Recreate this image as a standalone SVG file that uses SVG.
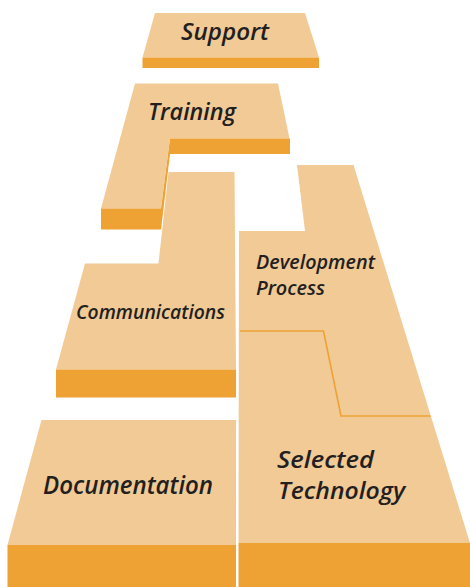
<svg xmlns="http://www.w3.org/2000/svg" width="470" height="587" viewBox="0 0 470 587">
<style>
.top{fill:#F1CA96}
.side{fill:#EEA234}
.lbl{font-family:"Open Sans","Noto Sans","DejaVu Sans",sans-serif;font-style:italic;font-weight:600;fill:#231F20}
</style>
<rect width="470" height="587" fill="#FFFFFF"/>
<g id="support">
<polygon class="top" points="155,13 305,13 319,57.5 142.5,57.5"/>
<rect class="side" x="142.5" y="57.5" width="176.5" height="10.5"/>
<text class="lbl" x="181" y="39.5" font-size="23" textLength="88" lengthAdjust="spacingAndGlyphs">Support</text>
</g>
<g id="training">
<polygon class="side" points="170,138 161,208 161,229.5 170,154"/>
<polygon class="top" points="135,83.5 278,83.5 289.5,138.5 170,138.5 161,208.5 101,208.5"/>
<rect class="side" x="170" y="138.5" width="120" height="15.5"/>
<rect class="side" x="101" y="208.5" width="60" height="21"/>
<text class="lbl" x="148" y="120" font-size="24" textLength="88" lengthAdjust="spacingAndGlyphs">Training</text>
</g>
<g id="communications">
<polygon class="top" points="168.5,172 234.5,172 236,369.5 56,369.5 85,263.5 158.5,263.5"/>
<rect class="side" x="56" y="369.5" width="180" height="28"/>
<text class="lbl" x="76" y="319" font-size="20" textLength="149" lengthAdjust="spacingAndGlyphs">Communications</text>
</g>
<g id="documentation">
<polygon class="top" points="41.5,420 236,420 236,545 7.5,545"/>
<rect class="side" x="7.5" y="545" width="228.5" height="42"/>
<text class="lbl" x="43" y="494" font-size="25" textLength="170" lengthAdjust="spacingAndGlyphs">Documentation</text>
</g>
<g id="selected-technology">
<polygon class="top" points="297,165 353.5,165 470,543 238.5,543 239,231 305,231"/>
<rect class="side" x="238.5" y="543" width="231.5" height="44"/>
<text class="lbl" x="277" y="467.5" font-size="24" textLength="97" lengthAdjust="spacingAndGlyphs">Selected</text>
<text class="lbl" x="278" y="499" font-size="24" textLength="127" lengthAdjust="spacingAndGlyphs">Technology</text>
</g>
<g id="development-process">
<polyline points="240,331 323.5,331 341,416 430.5,416" fill="none" stroke="#EEA234" stroke-width="1.6"/>
<text class="lbl" x="256" y="269" font-size="20" textLength="119" lengthAdjust="spacingAndGlyphs">Development</text>
<text class="lbl" x="256" y="295" font-size="20" textLength="69" lengthAdjust="spacingAndGlyphs">Process</text>
</g>
</svg>
